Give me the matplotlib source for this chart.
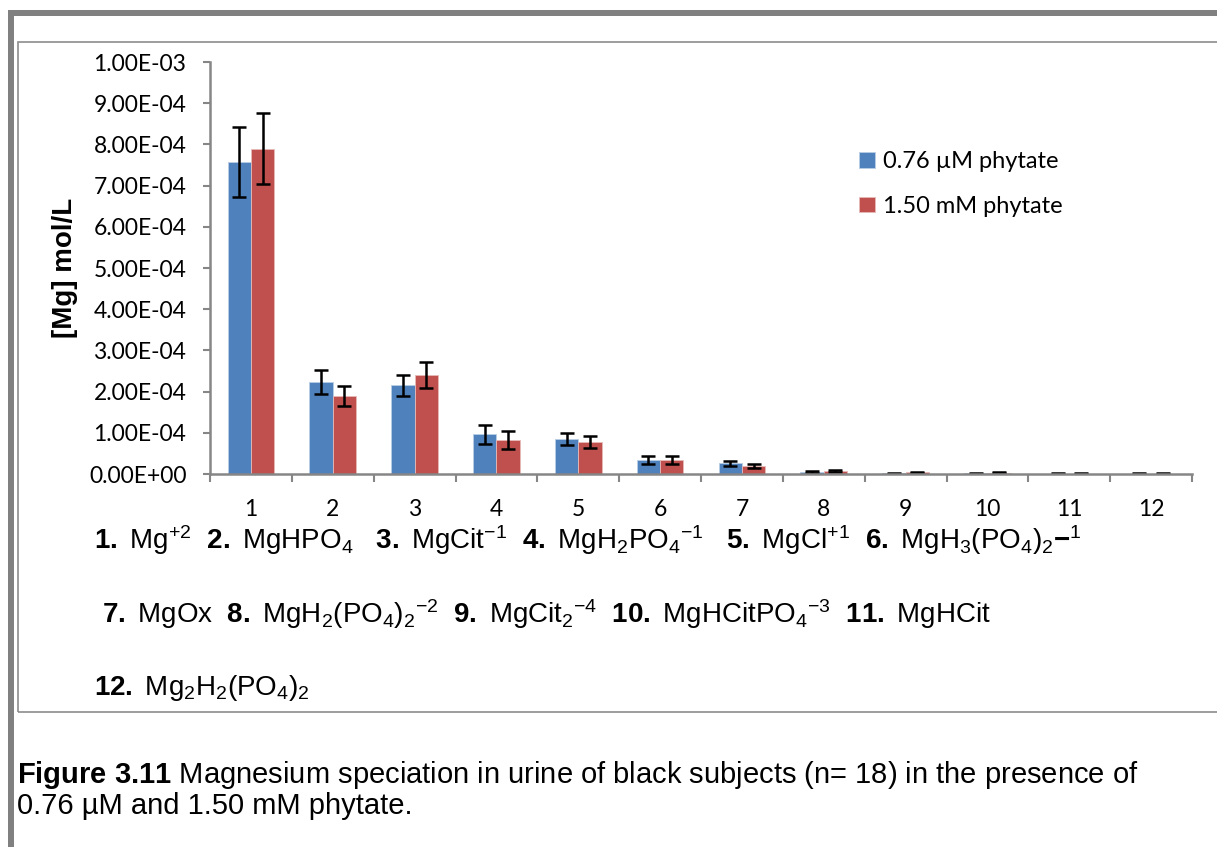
import numpy as np
import matplotlib
matplotlib.use("Agg")
import matplotlib.pyplot as plt
from matplotlib.patches import Rectangle

# species number on the x axis
species = list(range(1, 13))
# [Mg] mol/L
low_phy = [7.58e-4, 2.23e-4, 2.15e-4, 0.96e-4, 0.85e-4, 0.34e-4, 0.26e-4, 0.05e-4, 0.02e-4, 0.02e-4, 0.01e-4, 0.01e-4]
low_err = [0.85e-4, 0.29e-4, 0.25e-4, 0.24e-4, 0.15e-4, 0.09e-4, 0.06e-4, 0.02e-4, 0.01e-4, 0.01e-4, 0.005e-4, 0.005e-4]
high_phy = [7.90e-4, 1.89e-4, 2.40e-4, 0.82e-4, 0.78e-4, 0.34e-4, 0.20e-4, 0.07e-4, 0.04e-4, 0.03e-4, 0.01e-4, 0.01e-4]
high_err = [0.86e-4, 0.25e-4, 0.31e-4, 0.22e-4, 0.14e-4, 0.09e-4, 0.05e-4, 0.02e-4, 0.01e-4, 0.01e-4, 0.005e-4, 0.005e-4]
series_names = ["0.76 µM phytate", "1.50 mM phytate"]

plt.rcParams["mathtext.fontset"] = "custom"
plt.rcParams["mathtext.rm"] = "Liberation Sans"
plt.rcParams["mathtext.bf"] = "Liberation Sans:bold"
plt.rcParams["mathtext.it"] = "Liberation Sans:italic"

W, H = 1217, 847
fig = plt.figure(figsize=(W / 100, H / 100), dpi=100)

# page frames
fig.patches.append(Rectangle((8 / W, 0), 6 / W, 1 - 10 / H, transform=fig.transFigure,
                             facecolor="#808080", edgecolor="none"))
fig.patches.append(Rectangle((8 / W, 1 - 16 / H), 1, 6 / H, transform=fig.transFigure,
                             facecolor="#808080", edgecolor="none"))
fig.patches.append(Rectangle((18 / W, 1 - 712 / H), 1.2, (712 - 42) / H, transform=fig.transFigure,
                             facecolor="none", edgecolor="#8c8c8c", lw=1.2))

ax = fig.add_axes([210 / W, 1 - 474 / H, (1192 - 210) / W, 412 / H])
x = np.array(species)
bw = 1 / 3.5
ekw = dict(ecolor="black", elinewidth=1.8, capsize=5, capthick=1.8)
ax.bar(x - bw / 2, low_phy, bw, color="#4F81BD", edgecolor="#b9cde5", lw=0.6,
       yerr=low_err, error_kw=ekw, label=series_names[0])
ax.bar(x + bw / 2, high_phy, bw, color="#C0504D", edgecolor="#e6b9b8", lw=0.6,
       yerr=high_err, error_kw=ekw, label=series_names[1])

ax.set_xlim(0.5, 12.5)
ax.set_ylim(0, 1e-3)
ax.set_yticks(np.arange(0, 1.01e-3, 1e-4))
ax.set_yticklabels(["%.2E" % v for v in np.arange(0, 1.01e-3, 1e-4)], fontfamily="Lato", fontsize=16.5)
ax.set_xticks(x)
ax.set_xticklabels([str(s) for s in species], fontfamily="Lato", fontsize=16.5)
ax.set_xticks(np.arange(0.5, 12.6, 1), minor=True)
ax.tick_params(axis="x", which="major", length=0, pad=18)
ax.tick_params(axis="x", which="minor", length=6, width=1.5, color="#868686")
ax.tick_params(axis="y", length=5, width=1.5, color="#868686", pad=12)
for s in ["top", "right"]:
    ax.spines[s].set_visible(False)
for s in ["left", "bottom"]:
    ax.spines[s].set_color("#868686")
    ax.spines[s].set_linewidth(1.8)
ax.set_ylabel("[Mg] mol/L", fontfamily="Liberation Sans", fontweight="bold", fontsize=20, labelpad=8)

ax.legend(loc="upper left", bbox_to_anchor=(838 / W, 1 - 130 / H), bbox_transform=fig.transFigure,
          frameon=False, handlelength=0.65, handleheight=0.65, handletextpad=0.35, labelspacing=1.0,
          prop={"family": "Lato", "size": 17})

line1 = (r"$\mathbf{1.}\ \mathrm{Mg}{}^{+2}\ \ \mathbf{2.}\ \mathrm{MgHPO}_4\ \ \ \mathbf{3.}\ \mathrm{MgCit}{}^{-1}"
         r"\ \ \mathbf{4.}\ \mathrm{MgH}_2\mathrm{PO}_4{}^{-1}\ \ \ \mathbf{5.}\ \mathrm{MgCl}{}^{+1}"
         r"\ \ \mathbf{6.}\ \mathrm{MgH}_3\mathrm{(PO}_4\mathrm{)}_2\mathbf{-}{}^1$")
line2 = (r"$\mathbf{7.}\ \mathrm{MgOx}\ \ \mathbf{8.}\ \mathrm{MgH}_2\mathrm{(PO}_4\mathrm{)}_2{}^{-2}"
         r"\ \ \mathbf{9.}\ \mathrm{MgCit}_2{}^{-4}\ \ \mathbf{10.}\ \mathrm{MgHCitPO}_4{}^{-3}"
         r"\ \ \mathbf{11.}\ \mathrm{MgHCit}$")
line3 = r"$\mathbf{12.}\ \mathrm{Mg}_2\mathrm{H}_2\mathrm{(PO}_4\mathrm{)}_2$"
fig.text(94 / W, 1 - 540 / H, line1, fontsize=20, va="center")
fig.text(102 / W, 1 - 614 / H, line2, fontsize=20, va="center")
fig.text(94 / W, 1 - 688 / H, line3, fontsize=20, va="center")

fig.text(17 / W, 1 - 775 / H, r"$\mathbf{Figure\ 3.11}$ Magnesium speciation in urine of black subjects (n= 18) in the presence of",
         fontfamily="Liberation Sans", fontsize=21, va="center")
fig.text(17 / W, 1 - 806 / H, "0.76 µM and 1.50 mM phytate.", fontfamily="Liberation Sans", fontsize=21, va="center")

fig.savefig("out.png", dpi=100)
